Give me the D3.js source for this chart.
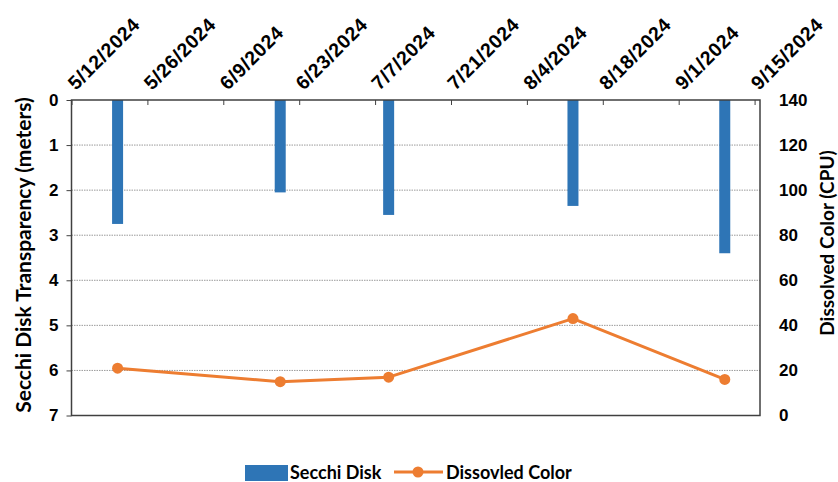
<!DOCTYPE html>
<html>
<head>
<meta charset="utf-8">
<script src="https://cdn.jsdelivr.net/npm/d3@7"></script>
<style>
  html, body { margin: 0; padding: 0; background: #fff; }
  svg { display: block; font-family: Lato, "Open Sans", sans-serif; font-weight: 700; }
</style>
</head>
<body>
<svg id="chart" width="838" height="482"></svg>
<script>
// Sampling dates and measurements
const sampleDates = ["5/20/2024", "6/19/2024", "7/9/2024", "8/12/2024", "9/9/2024"];
const secchiDepth = [2.75, 2.05, 2.55, 2.35, 3.4];       // meters
const dissolvedColor = [21, 15, 17, 43, 16];               // CPU
const dateTickLabels = ["5/12/2024", "5/26/2024", "6/9/2024", "6/23/2024", "7/7/2024",
                        "7/21/2024", "8/4/2024", "8/18/2024", "9/1/2024", "9/15/2024"];
const depthTicks = [0, 1, 2, 3, 4, 5, 6, 7];
const colorTicks = [0, 20, 40, 60, 80, 100, 120, 140];

const parse = d3.timeParse("%m/%d/%Y");
const rows = sampleDates.map((d, i) => ({ date: parse(d), depth: secchiDepth[i], color: dissolvedColor[i] }));

const svg = d3.select("#chart");
const m = { left: 71.5, right: 760, top: 100, bottom: 415.5 };

const x = d3.scaleTime()
  .domain([parse("5/12/2024"), parse("9/16/2024")])
  .range([m.left, m.right]);
const yDepth = d3.scaleLinear().domain([0, 7]).range([m.top, m.bottom]);
const yColor = d3.scaleLinear().domain([0, 140]).range([m.bottom, m.top]);

const mid = d => d3.timeHour.offset(d, 12);
const axisColor = "#404040";
const blue = "#2e75b6";
const orange = "#ed7d31";

// horizontal dotted gridlines
svg.append("g")
  .selectAll("line")
  .data(depthTicks.filter(t => t > 0 && t < 7))
  .join("line")
  .attr("x1", m.left).attr("x2", m.right)
  .attr("y1", d => yDepth(d)).attr("y2", d => yDepth(d))
  .attr("stroke", "#9a9a9a").attr("stroke-width", 1)
  .attr("stroke-dasharray", "1.5,1");

// Secchi disk bars hanging from the surface
const barW = 11;
svg.append("g")
  .selectAll("rect")
  .data(rows)
  .join("rect")
  .attr("x", d => x(mid(d.date)) - barW / 2)
  .attr("y", yDepth(0))
  .attr("width", barW)
  .attr("height", d => yDepth(d.depth) - yDepth(0))
  .attr("fill", blue);

// dissolved color line + markers
const line = d3.line().x(d => x(mid(d.date))).y(d => yColor(d.color));
svg.append("path")
  .datum(rows)
  .attr("d", line)
  .attr("fill", "none")
  .attr("stroke", orange)
  .attr("stroke-width", 3)
  .attr("stroke-linejoin", "round");
svg.append("g")
  .selectAll("circle")
  .data(rows)
  .join("circle")
  .attr("cx", d => x(mid(d.date)))
  .attr("cy", d => yColor(d.color))
  .attr("r", 5.5)
  .attr("fill", orange);

// top date axis
const xAxis = d3.axisTop(x)
  .tickValues(dateTickLabels.map(parse))
  .tickSize(-5)
  .tickFormat(d3.timeFormat("%-m/%-d/%Y"));
const gx = svg.append("g").attr("transform", `translate(0,${m.top})`).call(xAxis);
gx.select(".domain").remove();
gx.selectAll(".tick line").attr("stroke", axisColor).attr("stroke-width", 1);
gx.selectAll(".tick text")
  .attr("fill", "#000")
  .attr("font-size", 19.5)
  .attr("letter-spacing", 0.6)
  .attr("text-anchor", "start")
  .attr("transform", "translate(4,-9) rotate(-45)")
  .attr("x", 0).attr("y", 0).attr("dy", "0");

// left depth axis
const yAxisL = d3.axisLeft(yDepth).tickValues(depthTicks).tickSize(5).tickFormat(d3.format("d"));
const gl = svg.append("g").attr("transform", `translate(${m.left},0)`).call(yAxisL);
gl.select(".domain").remove();
gl.selectAll(".tick line").attr("stroke", axisColor);
gl.selectAll(".tick text").attr("fill", "#000").attr("font-size", 17).attr("x", -13);

// right color axis
const yAxisR = d3.axisRight(yColor).tickValues(colorTicks).tickSize(0).tickFormat(d3.format("d"));
const gr = svg.append("g").attr("transform", `translate(${m.right},0)`).call(yAxisR);
gr.select(".domain").remove();
gr.selectAll(".tick text").attr("fill", "#000").attr("font-size", 17).attr("x", 19);

// plot frame
svg.append("rect")
  .attr("x", m.left).attr("y", m.top)
  .attr("width", m.right - m.left).attr("height", m.bottom - m.top)
  .attr("fill", "none").attr("stroke", axisColor).attr("stroke-width", 1.5);

// axis titles
svg.append("text")
  .attr("transform", "translate(31,255) rotate(-90)")
  .attr("text-anchor", "middle")
  .attr("font-size", 21)
  .text("Secchi Disk Transparency (meters)");
svg.append("text")
  .attr("transform", "translate(834,243) rotate(-90)")
  .attr("text-anchor", "middle")
  .attr("font-size", 19)
  .text("Dissolved Color (CPU)");

// legend
const lg = svg.append("g");
lg.append("rect").attr("x", 245).attr("y", 465).attr("width", 43).attr("height", 16).attr("fill", blue);
lg.append("text").attr("x", 290).attr("y", 479).attr("font-size", 18).text("Secchi Disk");
lg.append("line").attr("x1", 394).attr("x2", 443).attr("y1", 472).attr("y2", 472)
  .attr("stroke", orange).attr("stroke-width", 3);
lg.append("circle").attr("cx", 418).attr("cy", 472).attr("r", 5.5).attr("fill", orange);
lg.append("text").attr("x", 446).attr("y", 479).attr("font-size", 18).text("Dissovled Color");
</script>
</body>
</html>
